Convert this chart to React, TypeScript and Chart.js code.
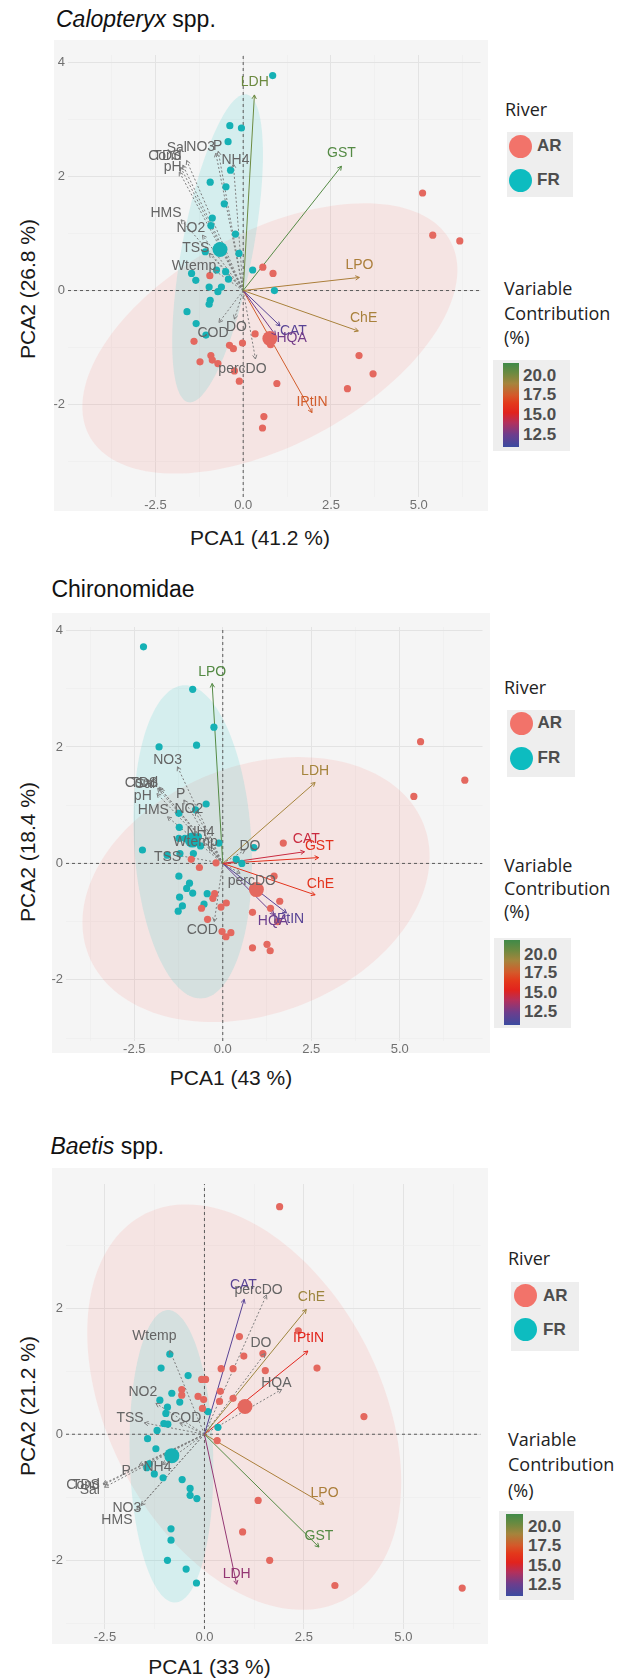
import React, { useEffect, useRef } from 'react';
import { Chart, registerables } from 'chart.js';

Chart.register(...registerables);

type Pt = [number, number];

// ================= Calopteryx spp. =================
const caloFR: Pt[] = [
  [0.84, 3.77], [-0.38, 2.89], [-0.05, 2.85], [-0.43, 2.61], [-0.36, 2.11], [-0.94, 1.9], [-0.49, 1.82],
  [-0.54, 1.52], [-0.88, 1.27], [-0.92, 1.14], [-0.22, 0.99], [-0.12, 0.65], [-1.08, 0.68], [0.27, 0.36],
  [-0.76, 0.36], [-0.5, 0.33], [-1.47, 0.3], [-0.42, 0.2], [-1.35, 0.18], [0.89, 0.0], [-0.97, 0.06],
  [-0.62, 0.06], [-0.72, -0.02], [-0.94, -0.17], [-0.97, -0.24], [-1.6, -0.37], [-1.34, -0.58], [-1.06, -0.78],
];
const caloAR: Pt[] = [
  [0.56, 0.41], [0.85, 0.3], [-0.95, 0.26], [5.11, 1.71], [5.4, 0.97], [6.17, 0.87], [0.34, -0.76],
  [0.78, -0.95], [-1.4, -0.89], [-0.39, -0.96], [-0.28, -1.02], [-0.02, -0.92], [-0.92, -1.14], [-1.23, -1.25],
  [-0.88, -1.22], [-0.72, -1.28], [-0.25, -1.41], [-0.11, -1.59], [0.96, -1.63], [3.3, -1.14], [3.7, -1.46],
  [2.97, -1.72], [0.59, -2.21], [0.55, -2.41],
];
const caloCentroidAR: Pt = [0.76, -0.84];
const caloCentroidFR: Pt = [-0.66, 0.72];
const caloVarNames = ['LDH', 'GST', 'LPO', 'ChE', 'CAT', 'HQA', 'IPtIN', 'Cond', 'TDS', 'Sal', 'pH', 'NO3', 'P', 'NH4', 'HMS', 'NO2', 'TSS', 'Wtemp', 'COD', 'DO', 'percDO'];
const caloVarEnd: Pt[] = [
  [0.32, 3.43], [2.8, 2.18], [3.31, 0.23], [3.28, -0.71], [1.05, -0.62], [0.92, -0.78], [1.96, -2.14],
  [-1.78, 2.16], [-1.72, 2.2], [-1.61, 2.28], [-1.82, 2.08], [-0.78, 2.41], [-0.71, 2.44], [-0.28, 2.22],
  [-1.77, 1.24], [-1.16, 0.97], [-0.97, 0.65], [-0.83, 0.36], [-0.69, -0.56], [-0.25, -0.5], [0.35, -1.2],
];
const caloVarLabel: Pt[] = [
  [0.33, 3.66], [2.8, 2.41], [3.31, 0.45], [3.43, -0.49], [1.43, -0.71], [1.38, -0.84], [1.96, -1.96],
  [-2.23, 2.35], [-2.16, 2.36], [-1.89, 2.49], [-2.01, 2.16], [-1.21, 2.51], [-0.73, 2.54], [-0.22, 2.28],
  [-2.2, 1.35], [-1.49, 1.09], [-1.35, 0.74], [-1.4, 0.42], [-0.86, -0.75], [-0.19, -0.64], [-0.02, -1.38],
];
const caloVarContrib: (number | null)[] = [20.3, 21.0, 18.8, 18.9, 11.8, 12.6, 17.6, null, null, null, null, null, null, null, null, null, null, null, null, null, null];
const caloEllipseAR = [0.76, -0.84, 5.04, 1.81, 1.77, -1.53];
const caloEllipseFR = [-0.73, 0.74, 0.82, 2.7, 1.0, -0.09];
const caloXRange: Pt = [-4.99, 6.76];
const caloYRange: Pt = [-3.62, 4.13];

// ================= Chironomidae =================
const chiroFR: Pt[] = [
  [-2.24, 3.72], [-0.85, 2.99], [-0.25, 2.34], [-1.8, 2.0], [-0.74, 2.03], [-0.47, 1.02], [-1.24, 0.86],
  [-0.77, 0.92], [-1.23, 0.62], [-1.24, 0.43], [-1.07, 0.43], [-0.69, 0.46], [-0.63, 0.3], [-0.11, 0.35],
  [-2.27, 0.23], [-0.83, 0.17], [-1.21, 0.17], [-1.57, 0.14], [0.88, 0.27], [0.38, 0.07], [0.54, 0.0],
  [-1.24, -0.22], [-0.94, -0.34], [-1.02, -0.43], [-0.85, -0.51], [-0.44, -0.52], [-1.22, -0.58],
  [-1.14, -0.73], [-1.26, -0.82], [-0.53, -0.7],
];
const chiroAR: Pt[] = [
  [5.59, 2.09], [6.84, 1.43], [5.4, 1.15], [1.71, 0.35], [-0.89, 0.07], [-0.66, -0.07], [-0.19, 0.01],
  [1.45, -0.22], [1.61, -0.65], [-0.23, -0.52], [-0.28, -0.6], [0.1, -0.68], [-0.6, -0.77], [-0.05, -0.75],
  [0.84, -0.84], [1.35, -0.77], [-0.43, -0.96], [1.55, -1.0], [-0.02, -1.17], [0.23, -1.19], [0.09, -1.26],
  [0.84, -1.45], [1.25, -1.39], [1.34, -1.5],
];
const chiroCentroidAR: Pt = [0.95, -0.45];
const chiroCentroidFR: Pt = [-0.86, 0.4];
const chiroVarNames = ['LPO', 'LDH', 'CAT', 'GST', 'ChE', 'IPtIN', 'HQA', 'NO3', 'Cond', 'TDS', 'Sal', 'pH', 'P', 'NO2', 'HMS', 'NH4', 'Wtemp', 'TSS', 'DO', 'percDO', 'COD'];
const chiroVarEnd: Pt[] = [
  [-0.3, 3.09], [2.61, 1.39], [2.31, 0.2], [2.71, 0.1], [2.61, -0.54], [1.8, -0.85], [1.45, -0.88],
  [-1.28, 1.66], [-1.84, 1.29], [-1.8, 1.31], [-1.76, 1.28], [-1.86, 1.2], [-1.1, 1.09], [-0.77, 0.89],
  [-1.56, 0.8], [-0.49, 0.46], [-0.39, 0.29], [-1.28, 0.14], [0.63, 0.23], [0.49, -0.17], [-0.24, -1.0],
];
const chiroVarLabel: Pt[] = [
  [-0.3, 3.29], [2.61, 1.59], [2.36, 0.41], [2.73, 0.29], [2.76, -0.36], [1.86, -0.95], [1.42, -1.0],
  [-1.56, 1.77], [-2.3, 1.38], [-2.22, 1.38], [-2.2, 1.36], [-2.26, 1.16], [-1.19, 1.19], [-0.96, 0.94],
  [-1.96, 0.92], [-0.63, 0.54], [-0.77, 0.37], [-1.56, 0.11], [0.77, 0.3], [0.82, -0.3], [-0.58, -1.15],
];
const chiroVarContrib: (number | null)[] = [21.0, 19.0, 14.6, 16.0, 16.2, 11.8, 12.4, null, null, null, null, null, null, null, null, null, null, null, null, null, null];
const chiroEllipseAR = [0.94, -0.45, 4.39, 1.49, 2.19, -1.72];
const chiroEllipseFR = [-0.85, 0.37, -0.22, 2.69, 1.66, 0.0];
const chiroXRange: Pt = [-4.43, 7.34];
const chiroYRange: Pt = [-3.05, 4.06];

// ================= Baetis spp. =================
const baetisFR: Pt[] = [
  [-0.87, 1.27], [-1.09, 1.05], [-0.41, 0.93], [-1.12, 0.54], [-0.82, 0.65], [-0.93, 0.43], [-0.62, 0.51],
  [-0.97, 0.33], [-1.02, 0.17], [-0.92, 0.16], [-1.19, 0.06], [0.09, 0.36], [0.34, 0.11], [-1.43, -0.07],
  [-1.22, -0.23], [-1.39, -0.47], [-1.45, -0.53], [-1.26, -0.63], [-1.04, -0.69], [-0.56, -0.72],
  [-0.36, -0.86], [-0.36, -0.97], [-0.19, -1.02], [-0.84, -1.5], [-0.84, -1.68], [-0.93, -2.0],
  [-0.46, -2.14], [-0.2, -2.36],
];
const baetisAR: Pt[] = [
  [1.89, 3.61], [0.88, 1.55], [0.99, 1.24], [1.47, 1.28], [1.53, 1.01], [0.42, 1.04], [0.72, 1.04],
  [2.83, 1.05], [2.36, 1.64], [-0.07, 0.87], [0.03, 0.87], [-0.57, 0.71], [-0.57, 0.62], [-0.16, 0.6],
  [-0.02, 0.55], [0.4, 0.68], [0.38, 0.52], [0.72, 0.57], [-0.05, 0.41], [4.01, 0.28], [0.32, -0.1],
  [1.35, -1.05], [0.96, -1.55], [1.64, -2.0], [3.28, -2.4], [6.48, -2.44],
];
const baetisCentroidAR: Pt = [1.02, 0.44];
const baetisCentroidFR: Pt = [-0.82, -0.34];
const baetisVarNames = ['CAT', 'ChE', 'IPtIN', 'LPO', 'GST', 'LDH', 'percDO', 'DO', 'HQA', 'Wtemp', 'NO2', 'TSS', 'COD', 'P', 'NH4', 'Cond', 'TDS', 'Sal', 'NO3', 'HMS'];
const baetisVarEnd: Pt[] = [
  [1.0, 2.14], [2.56, 1.98], [2.6, 1.32], [3.0, -1.11], [2.88, -1.79], [0.81, -2.38], [1.56, 2.21],
  [1.52, 1.28], [1.94, 0.71], [-0.87, 1.33], [-1.22, 0.49], [-1.51, 0.18], [-0.62, 0.18], [-1.64, -0.49],
  [-1.05, -0.48], [-2.55, -0.79], [-2.53, -0.8], [-2.51, -0.84], [-1.59, -1.13], [-1.7, -1.2],
];
const baetisVarLabel: Pt[] = [
  [0.98, 2.37], [2.69, 2.17], [2.62, 1.52], [3.02, -0.94], [2.88, -1.61], [0.81, -2.22], [1.36, 2.29],
  [1.42, 1.45], [1.81, 0.81], [-1.26, 1.56], [-1.55, 0.67], [-1.87, 0.25], [-0.47, 0.25], [-1.97, -0.58],
  [-1.18, -0.53], [-3.05, -0.81], [-2.98, -0.81], [-2.88, -0.89], [-1.95, -1.18], [-2.2, -1.36],
];
const baetisVarContrib: (number | null)[] = [11.8, 19.2, 15.4, 18.8, 21.0, 13.3, null, null, null, null, null, null, null, null, null, null, null, null, null, null];
const baetisEllipseAR = [1.0, 0.43, -2.48, 3.07, 3.07, 0.96];
const baetisEllipseFR = [-0.83, -0.35, -0.1, 2.32, 1.05, 0.03];
const baetisXRange: Pt = [-3.48, 6.94];
const baetisYRange: Pt = [-3.09, 3.97];

// ================= shared axis / legend values =================
const xMajorTicks = [-2.5, 0, 2.5, 5];
const xMinorTicks = [-3.75, -1.25, 1.25, 3.75, 6.25];
const yMajorTicks = [-2, 0, 2, 4];
const yMinorTicks = [-3, -1, 1, 3];
const rivers = ['AR', 'FR'];
const contribTicks = [20, 17.5, 15, 12.5];
const contribStops: [number, string][] = [
  [10.9, '#3b4ba0'], [12.5, '#6e3d8c'], [14.0, '#b3305c'], [15.3, '#e2231d'], [16.5, '#e3391b'],
  [17.5, '#d4592a'], [19.0, '#a5843c'], [20.3, '#6c8a40'], [21.6, '#3f8a48'],
];

// ================= styles =================
const FONT = '"Liberation Sans", Arial, Helvetica, sans-serif';
const LEG_FONT = '"Open Sans", "Liberation Sans", sans-serif';
const RIVER_COLOR: Record<string, string> = { AR: '#E4685F', FR: '#16B1B5' };
const KEY_COLOR: Record<string, string> = { AR: '#F2736A', FR: '#0DBCC0' };

function hexRgb(h: string): number[] {
  return [parseInt(h.slice(1, 3), 16), parseInt(h.slice(3, 5), 16), parseInt(h.slice(5, 7), 16)];
}
function contribColor(v: number): string {
  const s = contribStops;
  if (v <= s[0][0]) return s[0][1];
  for (let i = 1; i < s.length; i++) {
    if (v <= s[i][0]) {
      const f = (v - s[i - 1][0]) / (s[i][0] - s[i - 1][0]);
      const a = hexRgb(s[i - 1][1]);
      const b = hexRgb(s[i][1]);
      return `rgb(${Math.round(a[0] + (b[0] - a[0]) * f)},${Math.round(a[1] + (b[1] - a[1]) * f)},${Math.round(a[2] + (b[2] - a[2]) * f)})`;
    }
  }
  return s[s.length - 1][1];
}
const cbLo = contribStops[0][0];
const cbHi = contribStops[contribStops.length - 1][0];
const cbGradient = `linear-gradient(to top, ${contribStops
  .map(([v, c]) => `${c} ${(((v - cbLo) / (cbHi - cbLo)) * 100).toFixed(1)}%`)
  .join(', ')})`;

interface Layout {
  box: { x: number; y: number; w: number; h: number };
  chart: { l: number; r: number; t: number; b: number };
  title: Pt; xTitle: Pt; yTitle: Pt; river: Pt;
  legBox: { x: number; y: number; w: number; h: number };
  keyX: number; keyYs: number[]; keyTextX: number;
  varTitleX: number; varTitleYs: number[];
  cbBox: { x: number; y: number; w: number; h: number };
  cb: { x: number; y: number; w: number; h: number };
  cbLabelX: number; cbLabelYs: number[];
}

interface PanelDef {
  key: string;
  titleItalic: string; titleRest: string;
  xTitle: string; yTitle: string;
  fr: Pt[]; ar: Pt[]; cAR: Pt; cFR: Pt;
  names: string[]; ends: Pt[]; labels: Pt[]; contrib: (number | null)[];
  ellAR: number[]; ellFR: number[];
  xr: Pt; yr: Pt;
  L: Layout;
}

const panels: PanelDef[] = [
  {
    key: 'calo', titleItalic: 'Calopteryx', titleRest: ' spp.',
    xTitle: 'PCA1 (41.2 %)', yTitle: 'PCA2 (26.8 %)',
    fr: caloFR, ar: caloAR, cAR: caloCentroidAR, cFR: caloCentroidFR,
    names: caloVarNames, ends: caloVarEnd, labels: caloVarLabel, contrib: caloVarContrib,
    ellAR: caloEllipseAR, ellFR: caloEllipseFR, xr: caloXRange, yr: caloYRange,
    L: {
      box: { x: 54, y: 40, w: 434, h: 471 }, chart: { l: 68, r: 483, t: 55, b: 497 },
      title: [56, 20], xTitle: [260, 538], yTitle: [27.5, 288.5], river: [505, 110],
      legBox: { x: 507, y: 132, w: 66, h: 65 }, keyX: 520.4, keyYs: [146, 180], keyTextX: 537,
      varTitleX: 504, varTitleYs: [289.3, 313.5, 338.4],
      cbBox: { x: 493, y: 360, w: 77, h: 91 }, cb: { x: 503, y: 363, w: 16, h: 84 },
      cbLabelX: 523, cbLabelYs: [375.8, 395.4, 415, 434.6],
    },
  },
  {
    key: 'chiro', titleItalic: '', titleRest: 'Chironomidae',
    xTitle: 'PCA1 (43 %)', yTitle: 'PCA2 (18.4 %)',
    fr: chiroFR, ar: chiroAR, cAR: chiroCentroidAR, cFR: chiroCentroidFR,
    names: chiroVarNames, ends: chiroVarEnd, labels: chiroVarLabel, contrib: chiroVarContrib,
    ellAR: chiroEllipseAR, ellFR: chiroEllipseFR, xr: chiroXRange, yr: chiroYRange,
    L: {
      box: { x: 52, y: 613, w: 438, h: 440 }, chart: { l: 66, r: 486, t: 627, b: 1041 },
      title: [51.4, 590], xTitle: [231, 1078], yTitle: [27.7, 851.7], river: [504, 688.3],
      legBox: { x: 506.7, y: 710, w: 68.3, h: 66.7 }, keyX: 521.7, keyYs: [723.3, 758.3], keyTextX: 537.5,
      varTitleX: 504, varTitleYs: [866, 889, 912],
      cbBox: { x: 494, y: 938, w: 77, h: 90 }, cb: { x: 504, y: 940, w: 16, h: 85 },
      cbLabelX: 524, cbLabelYs: [955, 973.3, 992.7, 1011.7],
    },
  },
  {
    key: 'baetis', titleItalic: 'Baetis', titleRest: ' spp.',
    xTitle: 'PCA1 (33 %)', yTitle: 'PCA2 (21.2 %)',
    fr: baetisFR, ar: baetisAR, cAR: baetisCentroidAR, cFR: baetisCentroidFR,
    names: baetisVarNames, ends: baetisVarEnd, labels: baetisVarLabel, contrib: baetisVarContrib,
    ellAR: baetisEllipseAR, ellFR: baetisEllipseFR, xr: baetisXRange, yr: baetisYRange,
    L: {
      box: { x: 52, y: 1168, w: 436, h: 476 }, chart: { l: 66, r: 484, t: 1184, b: 1629 },
      title: [50.4, 1147.2], xTitle: [209.5, 1667], yTitle: [27.6, 1406.3], river: [508, 1259.3],
      legBox: { x: 511, y: 1281.5, w: 68, h: 69 }, keyX: 525.6, keyYs: [1295.7, 1329.5], keyTextX: 543,
      varTitleX: 508, varTitleYs: [1439.7, 1465, 1490.7],
      cbBox: { x: 499, y: 1510.7, w: 75, h: 89 }, cb: { x: 506, y: 1514, w: 17, h: 82 },
      cbLabelX: 528, cbLabelYs: [1527.2, 1545.6, 1565.6, 1584.8],
    },
  },
];

const ENV_LINE = '#7d7d7d';
const ENV_TEXT = '#646464';

function isMult(v: number, step: number) {
  return Math.abs(v / step - Math.round(v / step)) < 1e-6;
}

function PanelChart({ p }: { p: PanelDef }) {
  const ref = useRef<HTMLCanvasElement>(null);
  const { box, chart: ca } = p.L;
  useEffect(() => {
    const canvas = ref.current;
    if (!canvas) return;
    const yAxisW = 14;
    const xAxisH = box.y + box.h - ca.b;
    const colorOf = (i: number) => {
      const c = p.contrib[i];
      return c == null ? ENV_LINE : contribColor(c);
    };
    const datasets: any[] = [];
    datasets.push({ label: 'AR centroid', data: [{ x: p.cAR[0], y: p.cAR[1] }], backgroundColor: RIVER_COLOR.AR, borderWidth: 0, pointRadius: 7.5, order: 0 });
    datasets.push({ label: 'FR centroid', data: [{ x: p.cFR[0], y: p.cFR[1] }], backgroundColor: RIVER_COLOR.FR, borderWidth: 0, pointRadius: 7.5, order: 0 });
    datasets.push({ label: 'AR', data: p.ar.map(([x, y]) => ({ x, y })), backgroundColor: RIVER_COLOR.AR, borderWidth: 0, pointRadius: 3.6, order: 1 });
    datasets.push({ label: 'FR', data: p.fr.map(([x, y]) => ({ x, y })), backgroundColor: RIVER_COLOR.FR, borderWidth: 0, pointRadius: 3.6, order: 1 });
    p.names.forEach((n, i) => {
      datasets.push({
        label: n,
        data: [{ x: 0, y: 0 }, { x: p.ends[i][0], y: p.ends[i][1] }],
        showLine: true, pointRadius: 0, borderWidth: 1,
        borderColor: colorOf(i),
        borderDash: p.contrib[i] == null ? [2, 2] : [],
        order: 2,
      });
    });
    datasets.push({ label: 'zero-v', data: [{ x: 0, y: p.yr[0] }, { x: 0, y: p.yr[1] }], showLine: true, pointRadius: 0, borderWidth: 1, borderColor: '#5a5a5a', borderDash: [3, 3], order: 3 });
    datasets.push({ label: 'zero-h', data: [{ x: p.xr[0], y: 0 }, { x: p.xr[1], y: 0 }], showLine: true, pointRadius: 0, borderWidth: 1, borderColor: '#5a5a5a', borderDash: [3, 3], order: 3 });

    const biplot = {
      id: 'biplot-' + p.key,
      beforeDatasetsDraw(chart: any) {
        const { ctx, chartArea: a, scales } = chart;
        const sx = scales.x, sy = scales.y;
        ctx.save();
        ctx.beginPath();
        ctx.rect(a.left, a.top, a.right - a.left, a.bottom - a.top);
        ctx.clip();
        const ells: [number[], string][] = [[p.ellAR, 'rgba(248,118,109,0.13)'], [p.ellFR, 'rgba(0,191,196,0.13)']];
        ells.forEach(([e, col]) => {
          ctx.beginPath();
          const N = 160;
          for (let i = 0; i <= N; i++) {
            const t = (i / N) * Math.PI * 2;
            const dx = e[0] + e[2] * Math.cos(t) + e[4] * Math.sin(t);
            const dy = e[1] + e[3] * Math.cos(t) + e[5] * Math.sin(t);
            const px = sx.getPixelForValue(dx);
            const py = sy.getPixelForValue(dy);
            if (i === 0) ctx.moveTo(px, py); else ctx.lineTo(px, py);
          }
          ctx.closePath();
          ctx.fillStyle = col;
          ctx.fill();
        });
        ctx.restore();
      },
      afterDatasetsDraw(chart: any) {
        const { ctx, scales } = chart;
        const sx = scales.x, sy = scales.y;
        const ox = sx.getPixelForValue(0);
        const oy = sy.getPixelForValue(0);
        ctx.save();
        p.names.forEach((n, i) => {
          const tx = sx.getPixelForValue(p.ends[i][0]);
          const ty = sy.getPixelForValue(p.ends[i][1]);
          const ang = Math.atan2(ty - oy, tx - ox);
          const col = colorOf(i);
          ctx.strokeStyle = col;
          ctx.lineWidth = 1;
          ctx.setLineDash([]);
          ctx.beginPath();
          const hl = 4.5;
          ctx.moveTo(tx - hl * Math.cos(ang - 0.5), ty - hl * Math.sin(ang - 0.5));
          ctx.lineTo(tx, ty);
          ctx.lineTo(tx - hl * Math.cos(ang + 0.5), ty - hl * Math.sin(ang + 0.5));
          ctx.stroke();
        });
        ctx.font = `14px ${FONT}`;
        ctx.textAlign = 'center';
        ctx.textBaseline = 'middle';
        p.names.forEach((n, i) => {
          const c = p.contrib[i];
          ctx.fillStyle = c == null ? ENV_TEXT : contribColor(c);
          ctx.fillText(n, sx.getPixelForValue(p.labels[i][0]), sy.getPixelForValue(p.labels[i][1]));
        });
        ctx.restore();
      },
    };

    const xAll = [...xMajorTicks, ...xMinorTicks].sort((a, b) => a - b);
    const yAll = [...yMajorTicks, ...yMinorTicks].sort((a, b) => a - b);

    const chart = new Chart(canvas, {
      type: 'scatter',
      data: { datasets },
      options: {
        animation: false,
        responsive: false,
        maintainAspectRatio: false,
        events: [],
        layout: {
          padding: { left: ca.l - box.x - yAxisW, right: box.x + box.w - ca.r, top: ca.t - box.y, bottom: 0 },
        },
        plugins: { legend: { display: false }, tooltip: { enabled: false }, title: { display: false } },
        scales: {
          x: {
            type: 'linear', min: p.xr[0], max: p.xr[1],
            afterBuildTicks: (axis: any) => {
              axis.ticks = xAll.filter((v) => v >= axis.min && v <= axis.max).map((v) => ({ value: v }));
            },
            afterFit: (axis: any) => { axis.height = xAxisH; },
            ticks: {
              autoSkip: false, maxRotation: 0, minRotation: 0, padding: 1,
              color: '#707070', font: { family: FONT, size: 13 },
              callback: (v: any) => (isMult(Number(v), 2.5) ? Number(v).toFixed(1) : ''),
            },
            grid: {
              drawTicks: false,
              color: (c: any) => (isMult(c.tick?.value ?? 0, 2.5) ? '#e3e3e3' : '#ececec'),
              lineWidth: (c: any) => (isMult(c.tick?.value ?? 0, 2.5) ? 1 : 0.6),
            },
            border: { display: false },
          },
          y: {
            type: 'linear', min: p.yr[0], max: p.yr[1],
            afterBuildTicks: (axis: any) => {
              axis.ticks = yAll.filter((v) => v >= axis.min && v <= axis.max).map((v) => ({ value: v }));
            },
            afterFit: (axis: any) => { axis.width = yAxisW; },
            ticks: {
              autoSkip: false, padding: 3,
              color: '#707070', font: { family: FONT, size: 13 },
              callback: (v: any) => (isMult(Number(v), 2) ? String(Number(v)) : ''),
            },
            grid: {
              drawTicks: false,
              color: (c: any) => (isMult(c.tick?.value ?? 0, 2) ? '#e3e3e3' : '#ececec'),
              lineWidth: (c: any) => (isMult(c.tick?.value ?? 0, 2) ? 1 : 0.6),
            },
            border: { display: false },
          },
        },
      } as any,
      plugins: [biplot],
    });
    return () => chart.destroy();
  }, []);

  return (
    <canvas
      ref={ref}
      width={box.w}
      height={box.h}
      style={{ position: 'absolute', left: box.x, top: box.y, width: box.w, height: box.h, background: '#f5f5f5' }}
    />
  );
}

function Txt(props: { x: number; y: number; size: number; children: any; center?: boolean; rotate?: boolean; weight?: number; family?: string; color?: string }) {
  const { x, y, size, children, center, rotate, weight = 400, family = FONT, color = '#1a1a1a' } = props;
  const tx = center || rotate ? '-50%' : '0';
  return (
    <div
      style={{
        position: 'absolute', left: x, top: y, fontSize: size, lineHeight: `${size * 1.2}px`,
        fontFamily: family, fontWeight: weight, color, whiteSpace: 'nowrap',
        transform: `translate(${tx}, -50%)${rotate ? ' rotate(-90deg)' : ''}`,
      }}
    >
      {children}
    </div>
  );
}

function Panel({ p }: { p: PanelDef }) {
  const L = p.L;
  return (
    <>
      <Txt x={L.title[0]} y={L.title[1]} size={23} color="#111">
        {p.titleItalic ? <span style={{ fontStyle: 'italic' }}>{p.titleItalic}</span> : null}
        {p.titleRest}
      </Txt>
      <PanelChart p={p} />
      <Txt x={L.xTitle[0]} y={L.xTitle[1]} size={21} center>{p.xTitle}</Txt>
      <Txt x={L.yTitle[0]} y={L.yTitle[1]} size={21} rotate>{p.yTitle}</Txt>
      <Txt x={L.river[0]} y={L.river[1]} size={18} family={LEG_FONT} color="#222">River</Txt>
      <div style={{ position: 'absolute', left: L.legBox.x, top: L.legBox.y, width: L.legBox.w, height: L.legBox.h, background: '#eeeeee' }} />
      {rivers.map((r, i) => (
        <React.Fragment key={r}>
          <div
            style={{
              position: 'absolute', left: L.keyX - 11.5, top: L.keyYs[i] - 11.5, width: 23, height: 23,
              borderRadius: '50%', background: KEY_COLOR[r],
            }}
          />
          <Txt x={L.keyTextX} y={L.keyYs[i]} size={17} weight={700} color="#4d4d4d">{r}</Txt>
        </React.Fragment>
      ))}
      {['Variable', 'Contribution', '(%)'].map((t, i) => (
        <Txt key={t} x={L.varTitleX} y={L.varTitleYs[i]} size={18} family={LEG_FONT} color="#222">{t}</Txt>
      ))}
      <div style={{ position: 'absolute', left: L.cbBox.x, top: L.cbBox.y, width: L.cbBox.w, height: L.cbBox.h, background: '#eeeeee' }} />
      <div style={{ position: 'absolute', left: L.cb.x, top: L.cb.y, width: L.cb.w, height: L.cb.h, background: cbGradient }} />
      {contribTicks.map((v, i) => (
        <Txt key={v} x={L.cbLabelX} y={L.cbLabelYs[i]} size={17} weight={700} color="#4d4d4d">{v.toFixed(1)}</Txt>
      ))}
    </>
  );
}

export default function App() {
  return (
    <div style={{ position: 'absolute', left: 0, top: 0, width: 617, height: 1680, background: '#ffffff', overflow: 'hidden' }}>
      {panels.map((p) => (
        <Panel key={p.key} p={p} />
      ))}
    </div>
  );
}
